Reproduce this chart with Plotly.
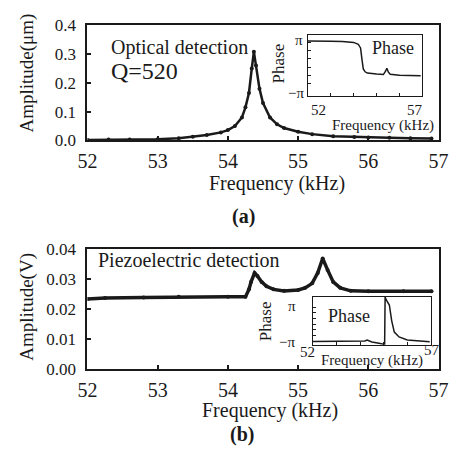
import plotly.graph_objects as go

W, H = 460, 470
FONT = "Liberation Serif, Times New Roman, serif"
INK = "#1a1a1a"

# ---- data ----
opt_freq = [52.0, 52.3, 52.6, 53.0, 53.3, 53.5, 53.7, 53.9, 54.0, 54.1, 54.2, 54.25,
            54.3, 54.34, 54.37, 54.40, 54.45, 54.5, 54.6, 54.7, 54.8, 55.0, 55.2,
            55.5, 55.8, 56.0, 56.3, 56.6, 56.9]
opt_amp = [0.002, 0.003, 0.003, 0.004, 0.008, 0.013, 0.019, 0.028, 0.036, 0.05, 0.08, 0.115,
           0.165, 0.25, 0.308, 0.26, 0.18, 0.13, 0.08, 0.056, 0.043, 0.03, 0.022,
           0.015, 0.012, 0.010, 0.009, 0.008, 0.007]

opt_ph_freq = [52.0, 52.5, 53.0, 53.5, 54.0, 54.2, 54.3, 54.36, 54.42, 54.5, 54.6, 55.0,
               55.3, 55.4, 55.45, 55.52, 55.6, 56.0, 56.5, 56.93]
opt_phase = [3.14, 3.16, 3.12, 3.08, 2.97, 2.75, 2.3, 1.0, -0.2, -0.55, -0.7, -0.82,
             -0.88, -0.45, -0.12, -0.6, -0.85, -0.97, -1.0, -1.03]

pz_freq = [52.0, 52.25, 52.8, 53.3, 54.0, 54.25, 54.3, 54.33, 54.38, 54.42, 54.48, 54.55,
           54.65, 54.8, 55.0, 55.1, 55.2, 55.28, 55.35, 55.42, 55.5, 55.6, 55.75, 56.0,
           56.5, 56.9]
pz_amp = [0.0233, 0.0236, 0.0238, 0.024, 0.024, 0.024, 0.0265, 0.029, 0.032, 0.031, 0.029,
          0.0275, 0.0265, 0.026, 0.0263, 0.027, 0.0285, 0.032, 0.0368, 0.033, 0.029, 0.027,
          0.026, 0.0259, 0.0259, 0.0259]

pz_ph_freq = [52.0, 52.5, 53.0, 53.5, 54.0, 54.2, 54.3, 54.4, 54.5, 54.8, 55.04, 55.06,
              55.11, 55.24, 55.34, 55.45, 55.65, 56.0, 56.5, 56.95]
pz_phase = [-3.05, -3.05, -3.08, -3.06, -3.0, -2.95, -2.8, -2.95, -3.15, -3.35, -3.6, 4.8,
            4.3, 3.4, 0.6, -1.4, -2.25, -2.8, -3.0, -3.1]

main_xticks = [52, 53, 54, 55, 56, 57]
opt_yticks = [0.0, 0.1, 0.2, 0.3, 0.4]
opt_yticklabels = ["0.0", "0.1", "0.2", "0.3", "0.4"]
pz_yticks = [0.0, 0.01, 0.02, 0.03, 0.04]
pz_yticklabels = ["0.00", "0.01", "0.02", "0.03", "0.04"]


def px(x):
    return x / W


def py(y):
    return 1 - y / H


fig = go.Figure()

fig.add_trace(go.Scatter(x=opt_freq, y=opt_amp, xaxis="x", yaxis="y", mode="lines+markers",
                         line=dict(color=INK, width=2.5), marker=dict(size=4, color=INK),
                         showlegend=False))
fig.add_trace(go.Scatter(x=pz_freq, y=pz_amp, xaxis="x2", yaxis="y2", mode="lines+markers",
                         line=dict(color=INK, width=3.5), marker=dict(size=4, color=INK),
                         showlegend=False))
fig.add_trace(go.Scatter(x=opt_ph_freq, y=opt_phase, xaxis="x3", yaxis="y3", mode="lines",
                         line=dict(color=INK, width=1.5), showlegend=False))
fig.add_trace(go.Scatter(x=pz_ph_freq, y=pz_phase, xaxis="x4", yaxis="y4", mode="lines",
                         line=dict(color=INK, width=1.5), showlegend=False))

main_ax = dict(showline=True, linecolor=INK, linewidth=2, mirror=True, ticks="inside",
               ticklen=4, tickcolor=INK, tickwidth=1.5, showgrid=False, zeroline=False)
inset_ax = dict(showline=True, linecolor=INK, linewidth=1.2, mirror=True, ticks="inside",
                ticklen=3, tickcolor=INK, tickwidth=1, showgrid=False, zeroline=False,
                showticklabels=False)

fig.update_layout(
    width=W, height=H, margin=dict(l=0, r=0, t=0, b=0),
    paper_bgcolor="white", plot_bgcolor="white",
    font=dict(family=FONT, color=INK),
    xaxis=dict(main_ax, domain=[px(81), px(448)], range=[52, 57], anchor="y",
               tickvals=main_xticks, tickfont=dict(family=FONT, size=20), ticklabelstandoff=2),
    yaxis=dict(main_ax, domain=[py(137), py(17)], range=[0, 0.4], anchor="x",
               tickvals=opt_yticks, ticktext=opt_yticklabels,
               tickfont=dict(family=FONT, size=17), ticklabelstandoff=6),
    xaxis2=dict(main_ax, domain=[px(81), px(448)], range=[52, 57], anchor="y2",
                tickvals=main_xticks, tickfont=dict(family=FONT, size=20), ticklabelstandoff=2),
    yaxis2=dict(main_ax, domain=[py(375), py(250)], range=[0, 0.04], anchor="x2",
                tickvals=pz_yticks, ticktext=pz_yticklabels,
                tickfont=dict(family=FONT, size=17), ticklabelstandoff=6),
    xaxis3=dict(inset_ax, domain=[px(311.5), px(431)], range=[52, 57], anchor="y3",
                tickvals=main_xticks),
    yaxis3=dict(inset_ax, domain=[py(91), py(27)], range=[-3.486, 3.865], anchor="x3",
                tickvals=[-2, -1, 0, 1, 2, 3]),
    xaxis4=dict(inset_ax, domain=[px(316.7), px(440)], range=[52, 57], anchor="y4",
                tickvals=main_xticks),
    yaxis4=dict(inset_ax, domain=[py(350), py(300)], range=[-3.65, 4.84], anchor="x4",
                tickvals=[-2, -1, 0, 1, 2, 3]),
)


def note(text, x, y, size, angle=0, xanchor="center", bold=False):
    t = f"<b>{text}</b>" if bold else text
    fig.add_annotation(text=t, x=px(x), y=py(y), xref="paper", yref="paper",
                       xanchor=xanchor, yanchor="middle", showarrow=False,
                       textangle=angle, font=dict(family=FONT, size=size, color=INK))


# main panel texts
note("Amplitude(μm)", 18, 67, 19, angle=-90)
note("Frequency (kHz)", 279, 182, 20)
note("(a)", 244, 216, 20, bold=True)
note("Optical detection", 104, 40, 20, xanchor="left")
note("Q=520", 104, 65, 24, xanchor="left")

note("Amplitude(V)", 18, 310, 19, angle=-90)
note("Frequency (kHz)", 272, 418, 20)
note("(b)", 243, 443, 20, bold=True)
note("Piezoelectric detection", 90, 262, 20, xanchor="left")

# top inset texts
note("Phase", 400, 41, 18)
note("Phase", 281, 57, 17, angle=-90)
note("π", 302, 32, 15)
note("−π", 299, 88, 15)
note("52", 323, 105, 15)
note("57", 423, 105, 15)
note("Frequency (kHz)", 390, 121, 15)

# bottom inset texts
note("Phase", 354, 320, 18)
note("Phase", 268, 325, 17, angle=-90)
note("π", 295, 310, 15)
note("−π", 290, 347, 15)
note("52", 311, 357, 15)
note("57", 441, 355, 15)
note("Frequency (kHz)", 378, 366, 15)

fig.write_html(
    "out.html",
    config={"displayModeBar": False},
    post_script="document.body.style.margin='0px';document.body.style.overflow='hidden';",
)
